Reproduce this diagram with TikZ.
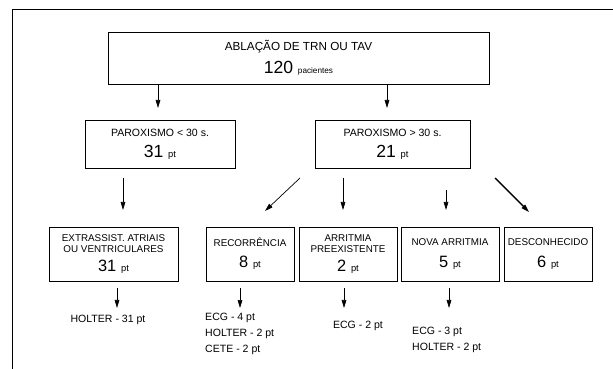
\documentclass[tikz,border=0pt]{standalone}
\usepackage{fontspec}
\setmainfont{Liberation Sans}
\usetikzlibrary{arrows.meta,positioning,calc}
\newcommand{\tally}[3][15]{{\fontsize{#1}{#1}\selectfont #2}\hspace{4pt}{\fontsize{8}{9}\selectfont #3}}

\begin{document}
\begin{tikzpicture}[
  x=0.03cm, y=-0.03cm,
  stage/.style={
    draw,
    line width=0.8pt,
    inner sep=0pt,
    outer sep=0pt,
    align=center
  },
  outcome/.style={stage, minimum height=1.62cm, font=\fontsize{8.4}{10}\selectfont},
  note/.style={inner sep=0pt, align=left, font=\fontsize{9}{13.6}\selectfont},
  arrow/.style={-{Triangle[length=2.4mm,width=1.4mm]},line width=0.6pt}
]
  \useasboundingbox (0,0) rectangle (613,369);
  \draw[line width=0.8pt] (613,9) -- (12,9) -- (12,369);

  % top and split
  \node[stage,minimum width=11.43cm,minimum height=1.56cm,font=\fontsize{10}{12}\selectfont] (abl) at (298.5,58)
    {ABLAÇÃO DE TRN OU TAV\\[6pt]\tally{120}{\fontsize{7}{8}\selectfont pacientes}};
  \node[stage,minimum width=4.5cm,minimum height=1.44cm,font=\fontsize{9}{11}\selectfont] (par1) at (160,144)
    {PAROXISMO < 30 s.\\[7pt]\tally{31}{pt}};
  \node[stage,minimum width=4.65cm,minimum height=1.44cm,font=\fontsize{9}{11}\selectfont] (par2) at (392.5,144)
    {PAROXISMO > 30 s.\\[7pt]\tally{21}{pt}};

  % outcomes
  \node[outcome,minimum width=3.87cm] (extra) at (113.5,254)
    {EXTRASSIST. ATRIAIS\\OU VENTRICULARES\\[6pt]\tally[14]{31}{pt}};
  \node[outcome,minimum width=2.64cm,right=0.84cm of extra] (rec)
    {RECORRÊNCIA\\[8pt]\tally[14]{8}{pt}};
  \node[outcome,minimum width=2.94cm,right=0.15cm of rec] (arr)
    {ARRITMIA\\PREEXISTENTE\\[6pt]\tally[14]{2}{pt}};
  \node[outcome,minimum width=2.94cm,right=0.12cm of arr] (nova)
    {NOVA ARRITMIA\\[8pt]\tally[14]{5}{pt}};
  \node[outcome,minimum width=2.64cm,right=0.15cm of nova] (desc)
    {DESCONHECIDO\\[8pt]\tally[14]{6}{pt}};

  % exams
  \node[note] (hol) at (108,320) {HOLTER - 31 pt};
  \node[note,anchor=north west] (recnote) at (205,313) {ECG - 4 pt\\HOLTER - 2 pt\\CETE - 2 pt};
  \node[note] (arrnote) at (358,326) {ECG - 2 pt};
  \node[note,anchor=north west] (novnote) at (412,327) {ECG - 3 pt\\ HOLTER - 2 pt};

  \draw[arrow,shorten >=0.36cm] ($(abl.south -| par1)+(-2,0)$) -- ($(par1.north)+(-2,0)$);
  \draw[arrow,shorten >=0.36cm] ($(abl.south -| par2)+(-5.5,0)$) -- ($(par2.north)+(-5.5,0)$);

  \draw[arrow,shorten <=0.3cm,shorten >=0.51cm] ($(par1.south -| extra)+(9.5,0)$) -- ($(extra.north)+(9.5,0)$);
  \draw[arrow] ($(par2.south west)+(-15,10)$) -- ($(rec.north)+(15,-16)$);
  \draw[arrow,shorten <=0.3cm,shorten >=0.51cm] ($(par2.south -| arr)+(-5,0)$) -- ($(arr.north)+(-5,0)$);
  \draw[arrow,shorten <=0.66cm,shorten >=0.51cm] ($(par2.south -| nova)+(-4,0)$) -- ($(nova.north)+(-4,0)$);
  \draw[arrow,line width=1.2pt] ($(par2.south east)+(25,10)$) -- ($(desc.north)+(-19,-15)$);

  \draw[arrow,shorten <=0.21cm,shorten >=0.21cm] ($(extra.south)+(3.5,0)$) -- ($(extra.south |- hol.north)+(3.5,0)$);
  \draw[arrow,shorten <=0.21cm,shorten >=0.15cm] ($(rec.south)+(-10,0)$) -- ($(rec.south |- recnote.north)+(-10,0)$);
  \draw[arrow,shorten <=0.21cm,shorten >=0.39cm] ($(arr.south)+(-4,0)$) -- ($(arr.south |- arrnote.north)+(-4,0)$);
  \draw[arrow,shorten <=0.21cm,shorten >=0.57cm] ($(nova.south)+(-1,0)$) -- ($(nova.south |- novnote.north)+(-1,0)$);
\end{tikzpicture}
\end{document}
